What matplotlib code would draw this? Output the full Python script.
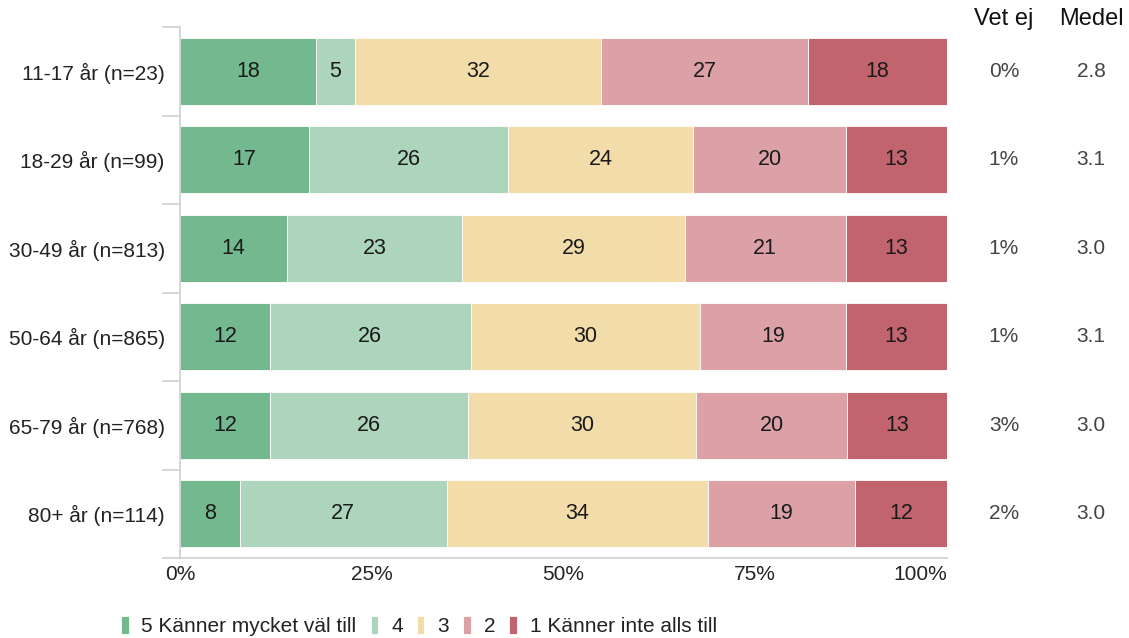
import numpy as np
import matplotlib
matplotlib.use("Agg")
import matplotlib.pyplot as plt

plt.rcParams['font.family'] = ['Liberation Sans', 'DejaVu Sans']

groups = ['11-17 år (n=23)', '18-29 år (n=99)', '30-49 år (n=813)',
          '50-64 år (n=865)', '65-79 år (n=768)', '80+ år (n=114)']
legend_labels = ['5 Känner mycket väl till', '4', '3', '2', '1 Känner inte alls till']
colors = ['#74b890', '#acd5bb', '#f2dcaa', '#dba1a7', '#c2646d']

# share per answer (percent)
s5 = [17.7, 16.8, 14.0, 11.7, 11.7, 7.8]
s4 = [5.1, 26.0, 22.8, 26.2, 25.8, 27.0]
s3 = [32.1, 24.1, 29.0, 29.9, 29.8, 34.0]
s2 = [27.0, 19.9, 21.0, 19.0, 19.7, 19.2]
s1 = [18.1, 13.2, 13.2, 13.2, 13.0, 12.0]
# printed labels
lab5 = [18, 17, 14, 12, 12, 8]
lab4 = [5, 26, 23, 26, 26, 27]
lab3 = [32, 24, 29, 30, 30, 34]
lab2 = [27, 20, 21, 19, 20, 19]
lab1 = [18, 13, 13, 13, 13, 12]

vet_ej = ['0%', '1%', '1%', '1%', '3%', '2%']
medel = ['2.8', '3.1', '3.0', '3.1', '3.0', '3.0']

fig = plt.figure(figsize=(11.29, 6.38), dpi=100)
ax = fig.add_axes([180/1129, 1-558/638, 767/1129, 531/638])

series = [s5, s4, s3, s2, s1]
labels = [lab5, lab4, lab3, lab2, lab1]
y = np.arange(len(groups))
left = np.zeros(len(groups))
for vals, labs, c, name in zip(series, labels, colors, legend_labels):
    vals = np.array(vals)
    ax.barh(y, vals, left=left, height=0.755, color=c, label=name,
            edgecolor='white', linewidth=0.6)
    for yi, (l, v, t) in enumerate(zip(left, vals, labs)):
        ax.text(l + v/2, yi, str(t), ha='center', va='center', fontsize=15.5, color='#1a1a1a')
    left = left + vals

ax.set_xlim(0, 100)
ax.set_ylim(len(groups) - 0.5, -0.5)
ax.set_yticks(y)
ax.set_yticklabels(groups, fontsize=15, color='#222222')
ax.set_yticks(np.arange(-0.5, len(groups)), minor=True)
ax.tick_params(axis='y', which='major', length=0, pad=11)
ax.tick_params(axis='y', which='minor', length=13, color='#d0d0d0', width=1.2)
ax.set_xticks([0, 25, 50, 75, 100])
ax.set_xticklabels(['0%', '25%', '50%', '75%', '100%'], fontsize=15, color='#222222')
ax.get_xticklabels()[-1].set_ha('right')
ax.tick_params(axis='x', length=0, pad=5)
for sp in ['top', 'right']:
    ax.spines[sp].set_visible(False)
for sp in ['left', 'bottom']:
    ax.spines[sp].set_color('#d0d0d0')
    ax.spines[sp].set_linewidth(1.2)

# extra columns on the right
x_vet = 1004/1129
x_med = 1091/1129
fig.text(x_vet, 1-19/638, 'Vet ej', ha='center', va='center', fontsize=17, color='#111111')
fig.text(x_med, 1-19/638, 'Medel', ha='center', va='center', fontsize=17, color='#111111')
for yi in range(len(groups)):
    ax.annotate(vet_ej[yi], xy=(x_vet, yi), xycoords=('figure fraction', 'data'),
                ha='center', va='center', fontsize=15, color='#444444')
    ax.annotate(medel[yi], xy=(x_med, yi), xycoords=('figure fraction', 'data'),
                ha='center', va='center', fontsize=15, color='#444444')

fig.legend(loc='center left', bbox_to_anchor=(121/1129, 1-626/638), ncol=5, frameon=False,
           fontsize=15, handlelength=0.36, handleheight=1.0, handletextpad=0.62,
           columnspacing=0.68, labelcolor='#222222', borderaxespad=0, borderpad=0)

fig.savefig('out.png', dpi=100)
